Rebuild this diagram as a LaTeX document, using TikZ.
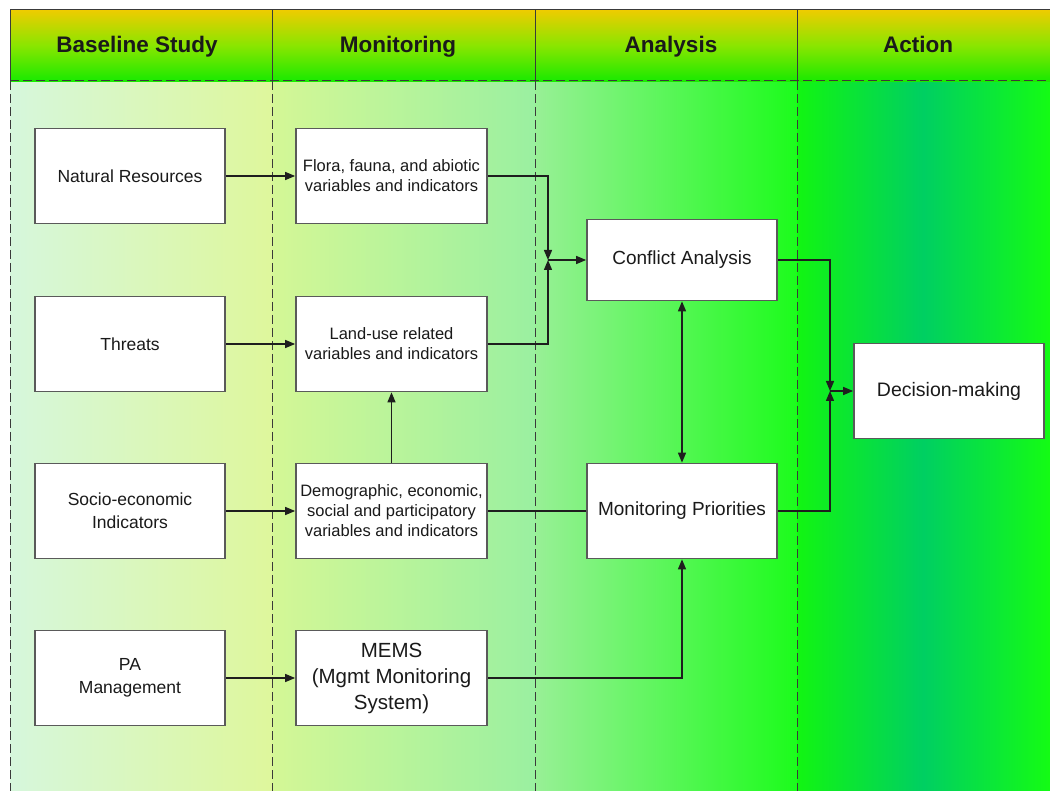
\documentclass[tikz,border=0pt]{standalone}
\usepackage{fontspec}
\setmainfont{Liberation Sans}
\usetikzlibrary{arrows.meta}
\definecolor{hgold}{HTML}{EECC00}
\definecolor{hyel}{HTML}{C0DC00}
\definecolor{hlime}{HTML}{88E600}
\definecolor{hgr2}{HTML}{34F000}
\definecolor{hgr}{HTML}{18EA00}
\definecolor{la}{HTML}{D6F7DC}
\definecolor{lb}{HTML}{DEF79C}
\definecolor{lc}{HTML}{D4F796}
\definecolor{ld}{HTML}{9AF0A0}
\definecolor{le}{HTML}{98F096}
\definecolor{lf}{HTML}{1CFC1C}
\definecolor{lg}{HTML}{12F512}
\definecolor{lh}{HTML}{00CF62}
\definecolor{li}{HTML}{14FC14}
\definecolor{boxgray}{HTML}{5A5A5A}
\definecolor{linec}{HTML}{1E1E1E}
\definecolor{framec}{HTML}{3A3A3A}
\definecolor{textc}{HTML}{1A1A1A}
\tikzset{
  box/.style={draw=boxgray, line width=1.7pt, fill=white, minimum width=190pt, minimum height=95pt, align=center, inner sep=2pt, text=textc},
  btxt/.style={font=\fontsize{17.5}{23}\selectfont},
  mtxt/.style={font=\fontsize{16.5}{20}\selectfont},
  atxt/.style={font=\fontsize{19}{24}\selectfont},
  memtxt/.style={font=\fontsize{20.5}{26}\selectfont},
  hdr/.style={font=\bfseries\fontsize{22.5}{27}\selectfont, text=textc, anchor=base},
  conn/.style={draw=linec, line width=1.4pt},
  arr/.style={conn, -{Triangle[length=10pt,width=8pt]}},
  darr/.style={conn, {Triangle[length=10pt,width=8pt]}-{Triangle[length=10pt,width=8pt]}},
  laneline/.style={draw=framec, line width=1pt},
  lanedash/.style={laneline, dash pattern=on 9pt off 4pt}
}
\begin{document}
\begin{tikzpicture}[x=1pt,y=-1pt]
\useasboundingbox (0,0) rectangle (1050,791);
\fill[white] (0,0) rectangle (1050,791);
% lanes
\shade[left color=la, right color=lb] (10,81) rectangle (272,791);
\shade[left color=lc, right color=ld] (272,81) rectangle (535,791);
\shade[left color=le, right color=lf] (535,81) rectangle (797,791);
\shade[left color=lg, right color=li, middle color=lh] (797,81) rectangle (1050,791);
% header
\shade[top color=hgold, middle color=hyel, bottom color=hlime] (10,10) rectangle (1050,46);
\shade[top color=hlime, middle color=hgr2, bottom color=hgr] (10,46) rectangle (1050,81.5);
\draw[laneline] (10,81) -- (10,10) -- (1050,10);
\draw[laneline] (272,10) -- (272,81);
\draw[laneline] (535,10) -- (535,81);
\draw[laneline] (797,10) -- (797,81);
\draw[lanedash] (10,81) -- (1050,81);
\draw[lanedash] (10,81) -- (10,791);
\draw[lanedash] (272,81) -- (272,791);
\draw[lanedash] (535,81) -- (535,791);
\draw[lanedash] (797,81) -- (797,791);
% header labels
\node[hdr] (h1) at (137,53) {Baseline Study};
\node[hdr] (h2) at (398,53) {Monitoring};
\node[hdr] (h3) at (671,53) {Analysis};
\node[hdr] (h4) at (918,53) {Action};
% boxes
\node[box,btxt] (nat) at (130,176) {Natural Resources};
\node[box,btxt] (thr) at (130,344) {Threats};
\node[box,btxt] (soc) at (130,511) {Socio-economic\\Indicators};
\node[box,btxt] (pam) at (130,678) {PA\\Management};
\node[box,mtxt,minimum width=191pt] (flo) at (391.5,176) {Flora, fauna, and abiotic\\variables and indicators};
\node[box,mtxt,minimum width=191pt] (lan) at (391.5,344) {Land-use related\\variables and indicators};
\node[box,mtxt,minimum width=191pt] (dem) at (391.5,511) {Demographic, economic,\\social and participatory\\variables and indicators};
\node[box,memtxt,minimum width=191pt] (mem) at (391.5,678) {MEMS\\(Mgmt Monitoring\\System)};
\node[box,atxt,minimum height=81pt] (con) at (682,260) {Conflict Analysis};
\node[box,atxt] (mpr) at (682,511) {Monitoring Priorities};
\node[box,atxt,font=\fontsize{19.5}{24}\selectfont] (dec) at (949,391) {Decision-making};
% junctions
\coordinate (j1) at (548,260);
\coordinate (j2) at (830,391);
% connectors
\draw[arr] (nat) -- (flo);
\draw[arr] (thr) -- (lan);
\draw[arr] (soc) -- (dem);
\draw[arr] (pam) -- (mem);
\draw[arr] (flo.east) -| (j1);
\draw[arr] (lan.east) -| (j1);
\draw[arr] (j1) -- (con.west);
\draw[arr] (dem.north) -- (lan.south);
\draw[conn] (dem.east) -- (mpr.west);
\draw[arr] (mem.east) -| (mpr.south);
\draw[darr] (con.south) -- (mpr.north);
\draw[arr] (con.east) -| (j2);
\draw[arr] (mpr.east) -| (j2);
\draw[arr] (j2) -- (dec.west);
\end{tikzpicture}
\end{document}
